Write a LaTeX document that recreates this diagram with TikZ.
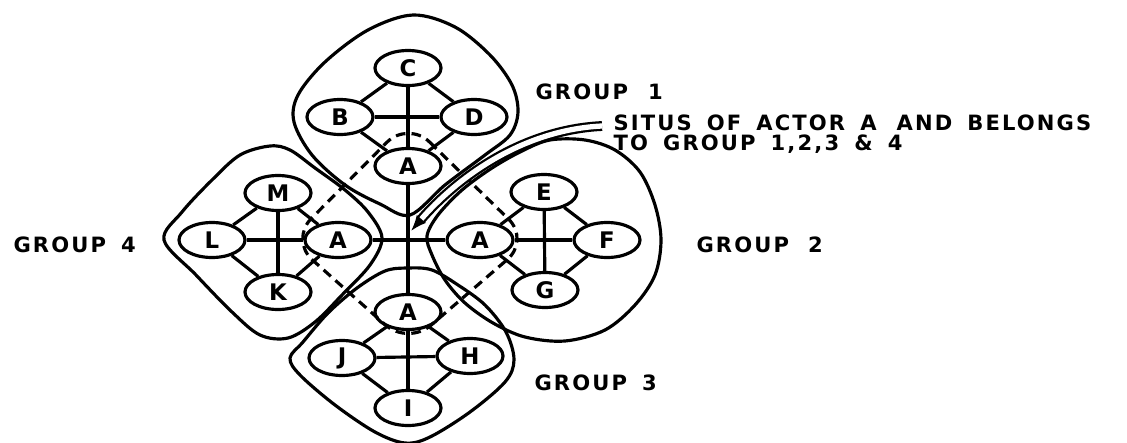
\documentclass[tikz,border=0pt]{standalone}
\usepackage{fontspec}
\setsansfont{DejaVu Sans}
\newfontfamily\lettering{DejaVu Sans}[LetterSpace=10,WordSpace=1.6]
\usetikzlibrary{shapes.geometric,arrows.meta}

\begin{document}
\begin{tikzpicture}[x=0.02cm,y=-0.02cm,line width=1.8pt,
  actor/.style={draw,ellipse,minimum width=1.32cm,minimum height=0.7cm,inner sep=0pt,
    font=\fontsize{13}{13}\selectfont\sffamily\bfseries},
  grouplabel/.style={anchor=west,inner sep=0pt,
    font=\fontsize{12}{11.2}\selectfont\lettering\bfseries},
  groupline/.style={smooth cycle,tension=0.55}]
\useasboundingbox (0,0) rectangle (1127,443);
% group 1
\node[actor]  (c)  at (408,68)  {C};
\node[actor]  (b)  at (340,117) {B};
\node[actor]  (d)  at (474,117) {D};
\node[actor]  (a1) at (408,166) {A};
% group 2
\node[actor]  (a2) at (480,240) {A};
\node[actor]  (e)  at (544,192) {E};
\node[actor]  (f)  at (607,240) {F};
\node[actor]  (g)  at (545,290) {G};
% group 3
\node[actor]  (a3) at (408,312) {A};
\node[actor]  (j)  at (342,358) {J};
\node[actor]  (h)  at (470,356) {H};
\node[actor]  (i)  at (408,408) {I};
% group 4
\node[actor]  (a4) at (338,240) {A};
\node[actor]  (l)  at (212,240) {L};
\node[actor]  (m)  at (278,193) {M};
\node[actor]  (k)  at (278,292) {K};
\coordinate   (hub) at (411,231);
% labels
\node[grouplabel] (g1) at (534,92)  {GROUP\hspace{0.1cm} 1};
\node[grouplabel] (g2) at (695,245) {GROUP\hspace{0.08cm} 2};
\node[grouplabel] (g3) at (533,383) {GROUP 3};
\node[grouplabel] (g4) at (12,245)  {GROUP 4};
\node[grouplabel,align=left] (situs) at (612,134)
  {SITUS OF ACTOR A\hspace{0.1cm} AND BELONGS\\TO GROUP 1,2,3 \& 4};
% links inside the groups
\draw (b) -- (c);  \draw (c) -- (d);  \draw (d) -- (a1); \draw (a1) -- (b);
\draw (c) -- (a1); \draw (b) -- (d);
\draw (a2) -- (e); \draw (e) -- (f);  \draw (f) -- (g);  \draw (g) -- (a2);
\draw (e) -- (g);  \draw (a2) -- (f);
\draw (a3) -- (h); \draw (h) -- (i);  \draw (i) -- (j);  \draw (j) -- (a3);
\draw (a3) -- (i); \draw (j) -- (h);
\draw (l) -- (m);  \draw (m) -- (a4); \draw (a4) -- (k); \draw (k) -- (l);
\draw (m) -- (k);  \draw (l) -- (a4);
% the cross through the situs
\draw (a1) -- (a3);
\draw (a4) -- (a2);
% group boundaries
\draw plot[groupline] coordinates {(413,15) (455,27) (490,55) (512,85) (518,112)
  (510,135) (485,155) (445,185) (410,215) (380,204) (345,185) (312,155) (294,122)
  (298,95) (325,62) (368,30)};
\draw plot[groupline] coordinates {(427,236) (438,215) (462,190) (492,168) (522,151)
  (550,140) (585,140) (615,150) (640,172) (655,205) (661,240) (655,275) (635,305)
  (605,330) (565,341) (525,337) (493,323) (465,303) (445,280) (432,255)};
\draw plot[groupline] coordinates {(408,268) (432,270) (458,285) (485,305) (506,332)
  (514,360) (505,382) (470,412) (430,437) (405,443) (375,432) (335,405) (300,375)
  (290,358) (303,342) (328,313) (357,288) (385,271)};
\draw plot[groupline] coordinates {(164,240) (182,212) (212,180) (240,155) (270,146)
  (290,150) (315,168) (345,190) (368,212) (382,238) (370,265) (342,295) (315,322)
  (288,338) (260,335) (232,312) (196,275)};
% shared situs
\draw[dash pattern=on 5.5pt off 3.5pt,rounded corners=0.6cm]
  (408,121) -- (530,240) -- (408,345) -- (290,240) -- cycle;
\draw[double,double distance=3pt,line width=1.3pt,-{Latex[length=9pt,width=7pt]}]
  ([xshift=-0.2cm,yshift=0.16cm]situs.west) .. controls (520,130) and (455,180) .. (hub);
\end{tikzpicture}
\end{document}
